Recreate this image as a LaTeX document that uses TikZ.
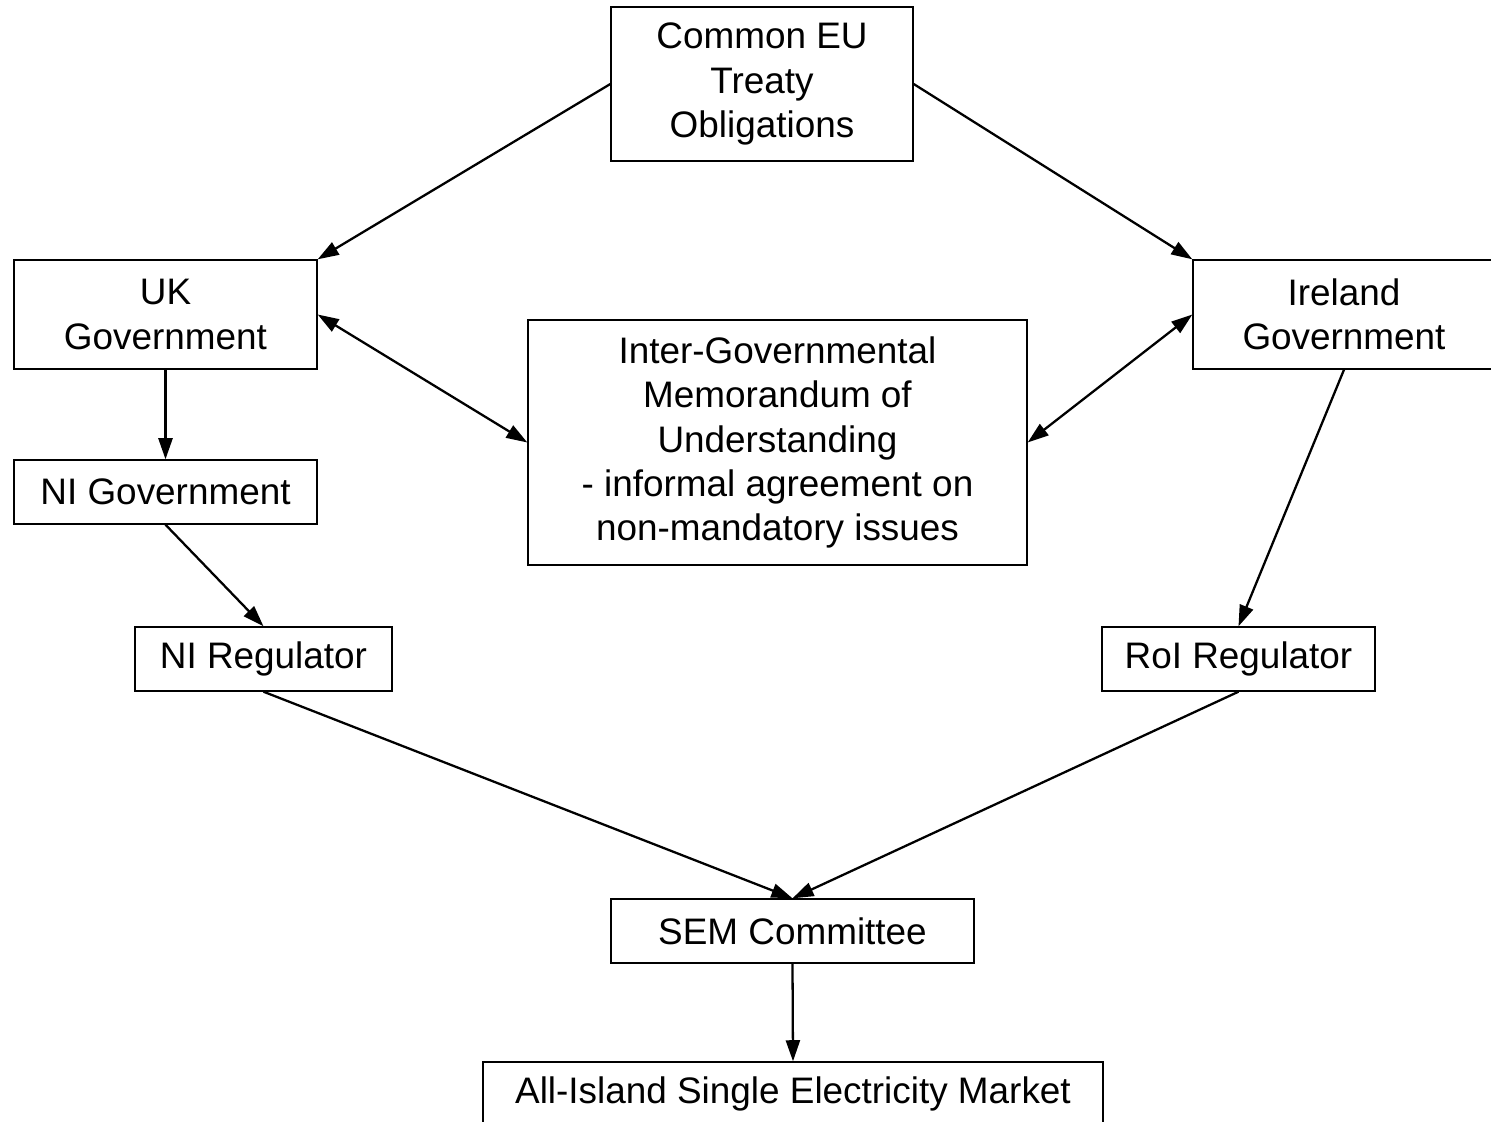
\documentclass[tikz,border=0pt]{standalone}
\usepackage{fontspec}
\setmainfont{Liberation Sans}
\usetikzlibrary{arrows.meta,positioning}

\begin{document}
\begin{tikzpicture}[x=0.02cm,y=-0.02cm]
                        \tikzset{Box/.style={%
                                shape=rectangle,%
                                draw=black,%
                                line width=0.8pt,%
                                align=center,%
                                inner sep=0pt,%
                                font=\fontsize{21}{25.3}\selectfont,%
                            },
                            Link/.style={%
                                line width=1.3pt,%
                                -{Triangle[length=12pt,width=8pt]},%
                            },
                            Both/.style={%
                                Link,%
                                {Triangle[length=12pt,width=8pt]}-{Triangle[length=12pt,width=8pt]},%
                            }}
                            \useasboundingbox (0,0) rectangle (1491,1122);
                            \clip (0,0) rectangle (1491,1122);

                            \node[Box, minimum width=6.04cm, minimum height=3.08cm] (eu) at (762,84) {Common EU\\Treaty\\Obligations};
                            \node[Box, minimum width=6.06cm, minimum height=2.18cm] (uk) at (165.5,314.5) {UK\\Government};
                            \node[Box, minimum width=6.04cm, minimum height=2.18cm] (ie) at (1344,314.5) {Ireland\\Government};
                            \node[Box, minimum width=9.98cm, minimum height=4.9cm] (mou) at (777.5,442.5) {Inter-Governmental\\Memorandum of\\Understanding\\- informal agreement on\\non-mandatory issues};
                            \node[Box, minimum width=6.06cm, minimum height=1.28cm] (nigov) at (165.5,492) {NI Government};
                            \node[Box, minimum width=5.14cm, minimum height=1.28cm] (nireg) at (263.5,659) {NI Regulator};
                            \node[Box, minimum width=5.46cm, minimum height=1.28cm] (roireg) at (1238.5,659) {RoI Regulator};
                            \node[Box, minimum width=7.26cm, minimum height=1.28cm] (sem) at (792.5,931) {SEM Committee};
                            \node[Box, minimum width=12.4cm, minimum height=1.28cm] (sem market) at (793,1094) {All-Island Single Electricity Market};

                            \path (eu.west) edge[Link] (uk.north east);
                            \path (eu.east) edge[Link] (ie.north west);
                            \path (uk.east) edge[Both] (mou.west);
                            \path (ie.west) edge[Both] (mou.east);
                            \path (uk.south) edge[Link] (nigov.north);
                            \path (nigov.south) edge[Link] (nireg.north);
                            \path (ie.south) edge[Link] (roireg.north);
                            \path (nireg.south) edge[Link] (sem.north);
                            \path (roireg.south) edge[Link] (sem.north);
                            \path (sem.south) edge[Link] (sem market.north);
                    \end{tikzpicture}
\end{document}
